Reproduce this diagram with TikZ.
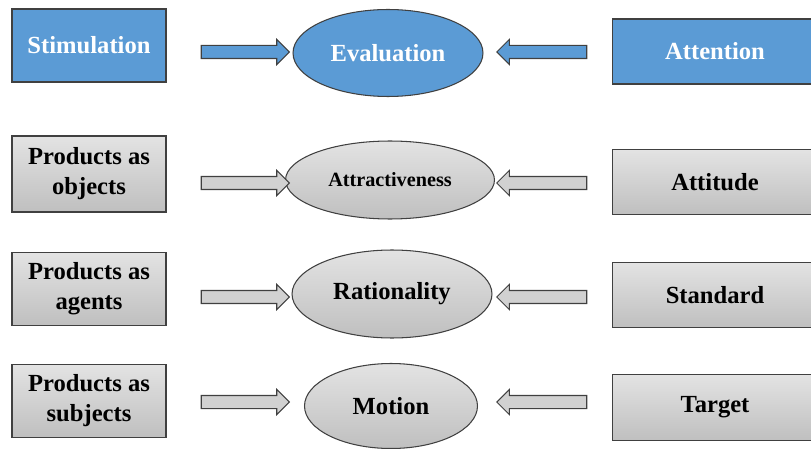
\documentclass[tikz,border=0pt]{standalone}
\usepackage{fontspec}
\setmainfont{LiberationSerif-Regular.ttf}[BoldFont=LiberationSerif-Bold.ttf]
\usetikzlibrary{shapes.geometric,shapes.arrows}
\definecolor{cueBlue}{HTML}{5B9BD5}
\definecolor{edgeGray}{HTML}{404040}
\tikzset{
  lbl/.style={font=\bfseries\fontsize{14}{17}\selectfont},
  sm/.style={font=\bfseries\fontsize{11.5}{14}\selectfont},
}

\begin{document}
\begin{tikzpicture}[x=0.02cm, y=-0.02cm,
  box/.style={draw=edgeGray, line width=0.6pt, minimum width=3.08cm, minimum height=1.46cm,
              inner sep=0pt, align=center, lbl},
  wbox/.style={box, minimum width=4.1cm, minimum height=1.3cm},
  oval/.style={draw=edgeGray, line width=0.6pt, ellipse, inner sep=0pt, lbl},
  bluefill/.style={fill=cueBlue, text=white},
  grayfill/.style={top color=black!11, bottom color=black!25, text=black},
  fwd/.style={single arrow, draw=edgeGray, line width=0.6pt, inner sep=0pt, inner ysep=0.12cm,
              single arrow head extend=0.12cm, minimum height=1.76cm},
  bwd/.style={fwd, shape border rotate=180, minimum height=1.8cm}]
  \useasboundingbox (0,0) rectangle (811,449);
  \clip (0,0) rectangle (811,449);
  % row 1
  \node[box, bluefill] (stim) at (89,45.5) {Stimulation};
  \node[oval, bluefill, minimum width=3.8cm, minimum height=1.74cm] (eval) at (388,53) {Evaluation};
  \node[wbox, bluefill] (attn) at (715,51.5) {Attention};
  \node[fwd, fill=cueBlue] (fa) at (242,52) {};
  \node[bwd, fill=cueBlue] (ba) at (545,52) {};
  % row 2
  \node[box, grayfill, minimum height=1.52cm] (obj) at (89,174) {Products as\\objects};
  \node[oval, grayfill, minimum width=4.18cm, minimum height=1.56cm, sm] (attr) at (390,180) {Attractiveness};
  \node[wbox, grayfill] (atti) at (715,182) {Attitude};
  \node[fwd, fill=black!18] (fb) at (242,183) {};
  \node[bwd, fill=black!18] (bb) at (545,183) {};
  % row 3
  \node[box, grayfill] (agt) at (89,289) {Products as\\agents};
  \node[oval, grayfill, minimum width=4cm, minimum height=1.76cm] (rat) at (392,294) {Rationality};
  \node[wbox, grayfill] (std) at (715,295) {Standard};
  \node[fwd, fill=black!18] (fc) at (242,297) {};
  \node[bwd, fill=black!18] (bc) at (545,297) {};
  % row 4
  \node[box, grayfill] (subj) at (89,401) {Products as\\subjects};
  \node[oval, grayfill, minimum width=3.46cm, minimum height=1.7cm] (mot) at (391,406) {Motion};
  \node[wbox, grayfill, minimum height=1.32cm] (tgt) at (715,407.5) {Target};
  \node[fwd, fill=black!18] (fd) at (242,402) {};
  \node[bwd, fill=black!18] (bd) at (545,402) {};
\end{tikzpicture}
\end{document}
